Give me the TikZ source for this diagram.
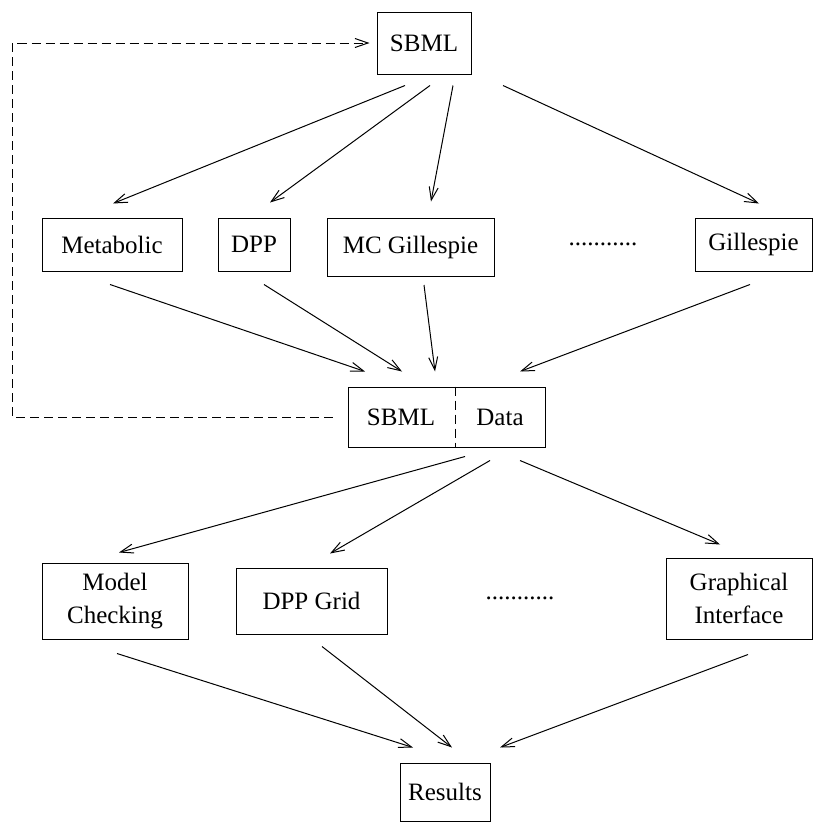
\documentclass[tikz,border=0pt]{standalone}
\usepackage{fontspec}
\setmainfont{Liberation Serif}
\usetikzlibrary{arrows.meta,positioning}

\begin{document}
\begin{tikzpicture}[x=1pt, y=-1pt,
    box/.style={draw, line width=1pt, inner sep=0pt, align=center, font=\rmfamily\fontsize{25}{33}\selectfont},
    txt/.style={inner sep=0pt, font=\rmfamily\fontsize{25}{33}\selectfont},
    arr/.style={line width=1pt, -{Straight Barb[length=13pt,width=9pt]}},
    back/.style={arr, dash pattern=on 9pt off 5pt}]
    \useasboundingbox (0,0) rectangle (822,822);

    % Top model
    \node[box, minimum width=94pt, minimum height=62pt] (sbml) at (424,43) {SBML};

    % Simulators
    \node[box, minimum width=140pt, minimum height=53pt] (metabolic) at (112,244.5) {Metabolic};
    \node[box, minimum width=72pt, minimum height=53pt] (dpp) at (254,244.5) {DPP};
    \node[box, minimum width=167pt, minimum height=58pt] (mcgill) at (410.5,247) {MC Gillespie};
    \node[txt] (dotsA) at (603,244) {...........};
    \node[box, minimum width=117pt, minimum height=53pt] (gill) at (753.5,244.5) {Gillespie};

    % Store with two parts
    \node[box, minimum width=197pt, minimum height=60pt] (store) at (446.5,417) {};
    \node[txt] (storeL) at (401,417) {SBML};
    \node[txt] (storeR) at (500,417) {Data};
    \draw[line width=1pt, dash pattern=on 9pt off 5pt] ([xshift=8.5pt]store.north) -- ([xshift=8.5pt]store.south);

    % Tools
    \node[box, minimum width=146pt, minimum height=76pt] (mc) at (115,601) {Model\\Checking};
    \node[box, minimum width=151pt, minimum height=66pt] (grid) at (311.5,601) {DPP Grid};
    \node[txt] (dotsB) at (520,598) {...........};
    \node[box, minimum width=146pt, minimum height=81pt] (gui) at (739,598.5) {Graphical\\Interface};

    % Results
    \node[box, minimum width=90pt, minimum height=58pt] (results) at (445,792) {Results};

    % Model to simulators
    \draw[arr] ([xshift=-19pt,yshift=-11pt]sbml.south) -- ([xshift=1pt,yshift=14pt]metabolic.north);
    \draw[arr] ([xshift=6pt,yshift=-11pt]sbml.south) -- ([xshift=16pt,yshift=15pt]dpp.north);
    \draw[arr] ([xshift=29pt,yshift=-11pt]sbml.south) -- ([xshift=20.5pt,yshift=16pt]mcgill.north);
    \draw[arr] ([xshift=79pt,yshift=-11pt]sbml.south) -- ([xshift=5.5pt,yshift=14pt]gill.north);

    % Simulators to store
    \draw[arr] ([xshift=-2pt,yshift=-13pt]metabolic.south) -- ([xshift=-81.5pt,yshift=15pt]store.north);
    \draw[arr] ([xshift=10pt,yshift=-13pt]dpp.south) -- ([xshift=-44.5pt,yshift=15pt]store.north);
    \draw[arr] ([xshift=13.5pt,yshift=-8.5pt]mcgill.south) -- ([xshift=-11.5pt,yshift=15pt]store.north);
    \draw[arr] ([xshift=-3.5pt,yshift=-13pt]gill.south) -- ([xshift=73.5pt,yshift=15pt]store.north);

    % Feedback to model
    \coordinate (bend) at (12,417);
    \draw[back] ([xshift=-15pt]store.west) -- (bend) |- ([xshift=-7pt]sbml.west);

    % Store to tools
    \draw[arr] ([xshift=18.5pt,yshift=-9pt]store.south) -- ([xshift=4pt,yshift=10pt]mc.north);
    \draw[arr] ([xshift=43.5pt,yshift=-13pt]store.south) -- ([xshift=18.5pt,yshift=14pt]grid.north);
    \draw[arr] ([xshift=73.5pt,yshift=-13pt]store.south) -- ([xshift=-19pt,yshift=13pt]gui.north);

    % Tools to results
    \draw[arr] ([xshift=2pt,yshift=-14pt]mc.south) -- ([xshift=-32pt,yshift=15pt]results.north);
    \draw[arr] ([xshift=10.5pt,yshift=-12pt]grid.south) -- ([xshift=7pt,yshift=15pt]results.north);
    \draw[arr] ([xshift=9pt,yshift=-15pt]gui.south) -- ([xshift=55pt,yshift=15pt]results.north);
\end{tikzpicture}
\end{document}
